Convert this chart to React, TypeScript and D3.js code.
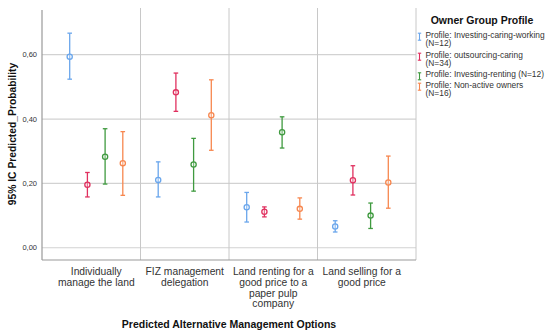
import * as d3 from "d3"
import React from "react"

// chart data
const categories = [
  ["Individually", "manage the land"],
  ["FIZ management", "delegation"],
  ["Land renting for a", "good price to a", "paper pulp", "company"],
  ["Land selling for a", "good price"],
]
const groups = [
  "Profile: Investing-caring-working (N=12)",
  "Profile: outsourcing-caring (N=34)",
  "Profile: Investing-renting (N=12)",
  "Profile: Non-active owners (N=16)",
]
const legendLines = [
  ["Profile: Investing-caring-working", "(N=12)"],
  ["Profile: outsourcing-caring", "(N=34)"],
  ["Profile: Investing-renting (N=12)"],
  ["Profile: Non-active owners", "(N=16)"],
]
const colors = ["#6aa6ec", "#e0305f", "#3f9a3f", "#f7874f"]

// mean / lower / upper per group, per category
const means = [
  [0.594, 0.211, 0.126, 0.066],
  [0.196, 0.483, 0.112, 0.210],
  [0.283, 0.259, 0.359, 0.100],
  [0.263, 0.412, 0.121, 0.203],
]
const lowers = [
  [0.524, 0.158, 0.080, 0.049],
  [0.158, 0.424, 0.096, 0.164],
  [0.198, 0.176, 0.310, 0.060],
  [0.163, 0.303, 0.089, 0.123],
]
const uppers = [
  [0.667, 0.267, 0.172, 0.084],
  [0.234, 0.543, 0.127, 0.255],
  [0.370, 0.340, 0.407, 0.139],
  [0.361, 0.522, 0.155, 0.285],
]
const yTicks = [0, 0.2, 0.4, 0.6]

const width = 550, height = 335
const plot = { left: 42, right: 416, top: 8, bottom: 260 }

export default function App() {
  const x = d3.scaleBand<number>()
    .domain(d3.range(categories.length))
    .range([plot.left + 10, plot.right - 10])
  const inner = d3.scaleBand<number>()
    .domain(d3.range(groups.length))
    .range([0, x.bandwidth()])
    .paddingInner(0)
    .paddingOuter(0.5)
  const y = d3.scaleLinear().domain([-0.038, 0.739]).range([plot.bottom, plot.top + 2])
  const fmt = (v: number) => d3.format(".2f")(v).replace(".", ",")
  const font = "Arial, 'Liberation Sans', sans-serif"

  // separators between categories
  const seps = d3.range(1, categories.length).map(i => (x(i - 1)! + x.bandwidth() + x(i)!) / 2)

  return (
    <svg width={width} height={height} style={{ position: "absolute", left: 0, top: 0 }} fontFamily={font}>
      <rect width={width} height={height} fill="#fff" />
      {/* horizontal gridlines */}
      {yTicks.map(t => (
        <g key={t}>
          <line x1={plot.left} x2={plot.right} y1={y(t)} y2={y(t)} stroke="#d2d2d2" strokeWidth={1.2} />
          <text x={37} y={y(t)} dy="0.35em" textAnchor="end" fontSize={7.5} fill="#333">{fmt(t)}</text>
        </g>
      ))}
      {/* vertical separators */}
      {seps.map((s, i) => (
        <line key={i} x1={s} x2={s} y1={plot.top} y2={plot.bottom} stroke="#c8c8c8" strokeWidth={1} />
      ))}
      <line x1={plot.right} x2={plot.right} y1={plot.top} y2={plot.bottom} stroke="#c8c8c8" strokeWidth={1} />
      {/* axes */}
      <line x1={plot.left} x2={plot.left} y1={plot.top + 2} y2={plot.bottom} stroke="#999" strokeWidth={1.2} />
      <line x1={plot.left} x2={plot.right} y1={plot.bottom} y2={plot.bottom} stroke="#999" strokeWidth={1.2} />

      {/* error bars */}
      {groups.map((g, gi) => (
        <g key={g} stroke={colors[gi]} fill="none" strokeWidth={1.3}>
          {categories.map((c, ci) => {
            const cx = x(ci)! + inner(gi)! + inner.bandwidth() / 2
            return (
              <g key={ci}>
                <line x1={cx} x2={cx} y1={y(lowers[gi][ci])} y2={y(uppers[gi][ci])} />
                <line x1={cx - 2.3} x2={cx + 2.3} y1={y(lowers[gi][ci])} y2={y(lowers[gi][ci])} />
                <line x1={cx - 2.3} x2={cx + 2.3} y1={y(uppers[gi][ci])} y2={y(uppers[gi][ci])} />
                <circle cx={cx} cy={y(means[gi][ci])} r={2.6} fill="#fff" fillOpacity={0.3} />
              </g>
            )
          })}
        </g>
      ))}

      {/* category labels */}
      {categories.map((lines, ci) => (
        <text key={ci} x={x(ci)! + x.bandwidth() / 2} y={275} textAnchor="middle" fontSize={10.3} fill="#333">
          {lines.map((l, li) => (
            <tspan key={li} x={x(ci)! + x.bandwidth() / 2} dy={li === 0 ? 0 : 10.8}>{l}</tspan>
          ))}
        </text>
      ))}

      {/* axis titles */}
      <text x={(plot.left + plot.right) / 2} y={328} textAnchor="middle" fontSize={10.5} fontWeight="bold" fill="#111">
        Predicted Alternative Management Options
      </text>
      <text transform={`translate(15.5,134) rotate(-90)`} textAnchor="middle" fontSize={10.3} fontWeight="bold" fill="#111">
        95% IC Predicted_Probability
      </text>

      {/* legend */}
      <text x={482} y={23.5} textAnchor="middle" fontSize={10.5} fontWeight="bold" fill="#111">Owner Group Profile</text>
      {legendLines.map((lines, gi) => {
        const top = [37.7, 57.7, 77.3, 87.7][gi]
        return (
          <g key={gi}>
            <g stroke={colors[gi]} strokeWidth={1.1}>
              <line x1={419.5} x2={419.5} y1={top - 4.5} y2={top + 2.5} />
              <line x1={417.8} x2={421.2} y1={top - 4.5} y2={top - 4.5} />
              <line x1={417.8} x2={421.2} y1={top + 2.5} y2={top + 2.5} />
            </g>
            <text x={425.5} y={top} fontSize={8.4} fill="#333" dy="0.1em">
              {lines.map((l, li) => (
                <tspan key={li} x={425.5} dy={li === 0 ? 0 : 8.5}>{l}</tspan>
              ))}
            </text>
          </g>
        )
      })}
    </svg>
  )
}
